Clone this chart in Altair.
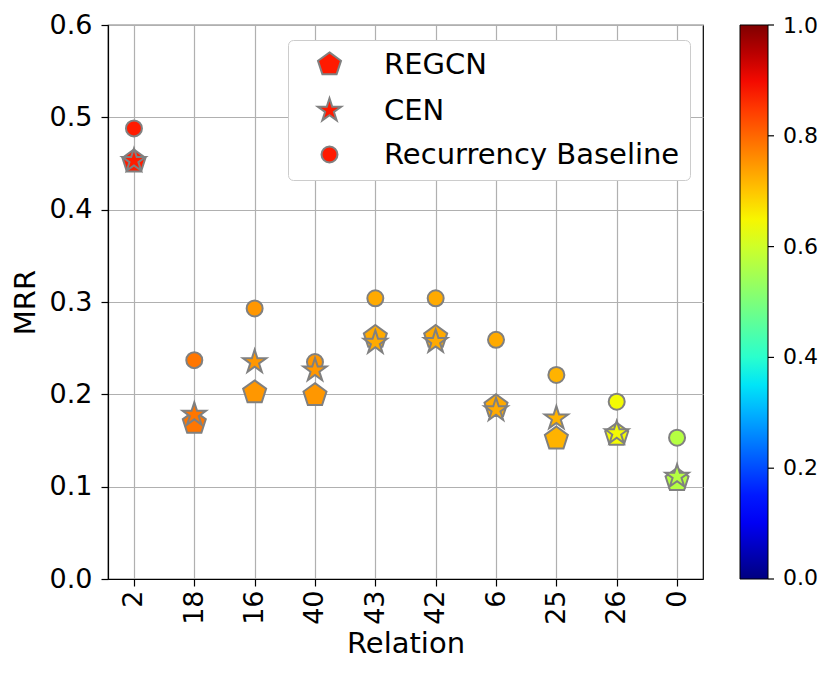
import altair as alt
import numpy as np
import pandas as pd

relations = ["2", "18", "16", "40", "43", "42", "6", "25", "26", "0"]
regcn = [0.452, 0.169, 0.202, 0.199, 0.262, 0.262, 0.187, 0.152, 0.156, 0.107]
cen = [0.453, 0.178, 0.235, 0.226, 0.256, 0.257, 0.183, 0.174, 0.158, 0.111]
recurrency = [0.488, 0.237, 0.293, 0.235, 0.304, 0.304, 0.259, 0.221, 0.192, 0.153]
color_value = [0.88, 0.785, 0.75, 0.75, 0.73, 0.73, 0.73, 0.72, 0.645, 0.57]
models = ["REGCN", "CEN", "Recurrency Baseline"]
colorbar_ticks = [0.0, 0.2, 0.4, 0.6, 0.8, 1.0]

rows = []
for name, vals in [("REGCN", regcn), ("Recurrency Baseline", recurrency), ("CEN", cen)]:
    for r, v, c in zip(relations, vals, color_value):
        rows.append({"relation": r, "model": name, "mrr": v, "cval": c})
df = pd.DataFrame(rows)
cb_df = pd.DataFrame({"t": colorbar_ticks})

# jet colormap (matplotlib segment data)
stops = [0, 0.11, 0.125, 0.34, 0.35, 0.375, 0.64, 0.65, 0.66, 0.89, 0.91, 1.0]
rr = np.interp(stops, [0, 0.35, 0.66, 0.89, 1.0], [0, 0, 1, 1, 0.5])
gg = np.interp(stops, [0, 0.125, 0.375, 0.64, 0.91, 1.0], [0, 0, 1, 1, 0, 0])
bb = np.interp(stops, [0, 0.11, 0.34, 0.65, 1.0], [0.5, 1, 1, 0, 0])
jet = ["#%02x%02x%02x" % (int(round(a * 255)), int(round(b * 255)), int(round(c * 255)))
       for a, b, c in zip(rr, gg, bb)]
# stretch the ends a hair so the end labels of the colour bar stay centred
domain_stops = [-0.002] + stops[1:-1] + [1.002]


def poly(points):
    return "M" + "L".join("%.4f,%.4f" % p for p in points) + "Z"


pent = [(np.cos(np.radians(-90 + 72 * k)), np.sin(np.radians(-90 + 72 * k))) for k in range(5)]
star = []
for k in range(5):
    a = np.radians(-90 + 72 * k)
    b = np.radians(-54 + 72 * k)
    star.append((np.cos(a), np.sin(a)))
    star.append((0.382 * np.cos(b), 0.382 * np.sin(b)))
pent_path = poly(pent)
star_path = poly(star)

FONT = "DejaVu Sans"
CB_X = 632
CB_W = 28

model_legend = alt.Legend(
    title=None, orient="none", legendX=180, legendY=15,
    labelFontSize=29, labelFont=FONT, labelLimit=500, padding=10,
    symbolOffset=17, labelOffset=40, rowPadding=14,
    fillColor="white", strokeColor="#cccccc", cornerRadius=5,
    symbolStrokeWidth=2, symbolFillColor="#ff1a00", symbolStrokeColor="gray",
    symbolOpacity=1)

points = alt.Chart(df).mark_point(
    filled=True, stroke="gray", strokeWidth=2, opacity=1, fillOpacity=1
).encode(
    x=alt.X("relation:N", sort=relations, title="Relation",
            scale=alt.Scale(type="point", padding=0.43),
            axis=alt.Axis(labelAngle=270, labelFontSize=27, titleFontSize=29,
                          labelPadding=4, titlePadding=5, grid=True)),
    y=alt.Y("mrr:Q", title="MRR",
            scale=alt.Scale(domain=[0, 0.6], nice=False, zero=True),
            axis=alt.Axis(values=[0, 0.1, 0.2, 0.3, 0.4, 0.5, 0.6], format=".1f",
                          labelFontSize=27, titleFontSize=29, labelPadding=9,
                          titlePadding=9, grid=True)),
    shape=alt.Shape("model:N", scale=alt.Scale(domain=models, range=[pent_path, star_path, "circle"]),
                    legend=model_legend),
    size=alt.Size("model:N", scale=alt.Scale(type="ordinal", domain=models, range=[585, 600, 256]),
                  legend=model_legend),
    color=alt.Color("cval:Q",
                    scale=alt.Scale(domain=domain_stops, range=jet, interpolate="rgb"),
                    legend=alt.Legend(
                        title=None, orient="none", legendX=CB_X, legendY=0,
                        direction="vertical", gradientLength=554, gradientThickness=CB_W,
                        gradientStrokeColor="black", gradientStrokeWidth=1,
                        values=colorbar_ticks, format=".1f",
                        labelFontSize=22, labelFont=FONT, labelOffset=15,
                        labelBaseline="middle", labelOverlap=False)),
)

cb_ticks = alt.Chart(cb_df).mark_rule(color="black", strokeWidth=1.2).encode(
    x=alt.value(CB_X + CB_W),
    x2=alt.value(CB_X + CB_W + 6),
    y=alt.Y("t:Q", scale=alt.Scale(domain=[0, 1], nice=False), axis=None),
)

chart = alt.layer(points, cb_ticks).resolve_scale(y="independent").properties(
    width=595, height=554,
    autosize=alt.AutoSizeParams(type="none"),
    padding={"left": 100, "top": 17, "right": 120, "bottom": 88},
).configure(
    font=FONT,
).configure_axis(
    labelFont=FONT, titleFont=FONT, labelColor="black", titleColor="black",
    titleFontWeight="normal", domainColor="black", tickColor="black",
    tickSize=7, tickWidth=1.2, domainWidth=1.2,
    gridColor="#b0b0b0", gridWidth=1.2,
).configure_view(
    stroke="black", strokeWidth=1.2, clip=False,
)

chart.save("out.html", embed_options={"renderer": "svg", "actions": False})
